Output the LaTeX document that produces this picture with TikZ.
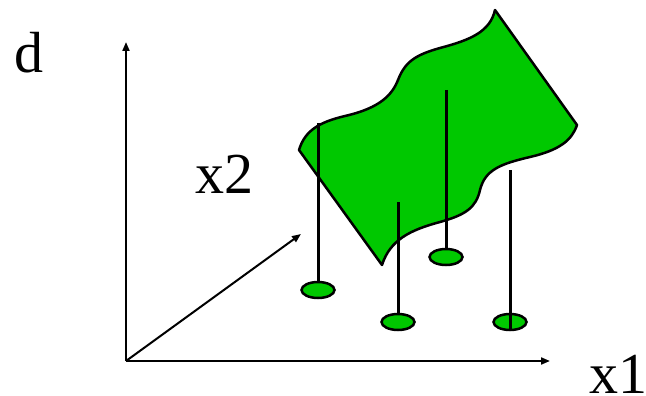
\documentclass[tikz,border=0pt]{standalone}
\usepackage{fontspec}
\setmainfont{Liberation Serif}
\usetikzlibrary{arrows.meta,shapes.geometric}

\definecolor{leafgreen}{RGB}{0,200,0}

\tikzset{
	axis/.style={line width=2pt, -{Triangle[length=9pt,width=7pt]}},
	stem/.style={line width=3pt},
	disk/.style={ellipse, draw, line width=2.5pt, fill=leafgreen,
		minimum width=33pt, minimum height=16pt, inner sep=0pt},
	lbl/.style={anchor=base west, inner sep=0pt, font=\fontsize{58}{58}\selectfont},
}

\begin{document}
\begin{tikzpicture}[x=1pt, y=-1pt]
		\useasboundingbox (0, 0) rectangle (646, 396);
		
		% axes
		\coordinate (o) at (126, 361);
		\coordinate (dtop) at (126, 42);
		\coordinate (x1end) at (550, 361);
		\coordinate (x2end) at (301, 234);
		\draw[axis] (o) -- (dtop);
		\draw[axis] (o) -- (x1end);
		\draw[axis] (o) -- (x2end);
		
		\node[lbl] (d) at (14, 73) {d};
		\node[lbl] (x2) at (195, 193) {x2};
		\node[lbl] (x1) at (589, 393) {x1};
		
		% the surface, sharp corners on the straight sides
		\filldraw[fill=leafgreen, line width=2.5pt, line join=round]
		(382, 265) -- (299, 150)
		.. controls (305, 130) and (320, 122) .. (345, 116)
		.. controls (380, 108) and (392, 95) .. (398, 80)
		.. controls (405, 62) and (415, 55) .. (440, 48)
		.. controls (470, 40) and (490, 32) .. (495, 10)
		-- (577, 125)
		.. controls (572, 140) and (560, 150) .. (530, 157)
		.. controls (500, 164) and (485, 170) .. (480, 190)
		.. controls (476, 208) and (465, 215) .. (440, 222)
		.. controls (410, 230) and (390, 240) .. (382, 265)
		-- cycle;
		
		% samples below the surface
		\node[disk] (s1) at (318, 290) {};
		\node[disk] (s2) at (398, 322) {};
		\node[disk] (s3) at (446, 257) {};
		\node[disk] (s4) at (510, 322) {};
		
		\coordinate (t1) at (318, 123);
		\coordinate (t2) at (398, 202);
		\coordinate (t3) at (446, 90);
		\coordinate (t4) at (510, 170);
		\draw[stem] (t1) -- (s1.north);
		\draw[stem] (t2) -- (s2.north);
		\draw[stem] (t3) -- (s3.north);
		\draw[stem] (t4) -- (s4.south);
	\end{tikzpicture}
\end{document}
